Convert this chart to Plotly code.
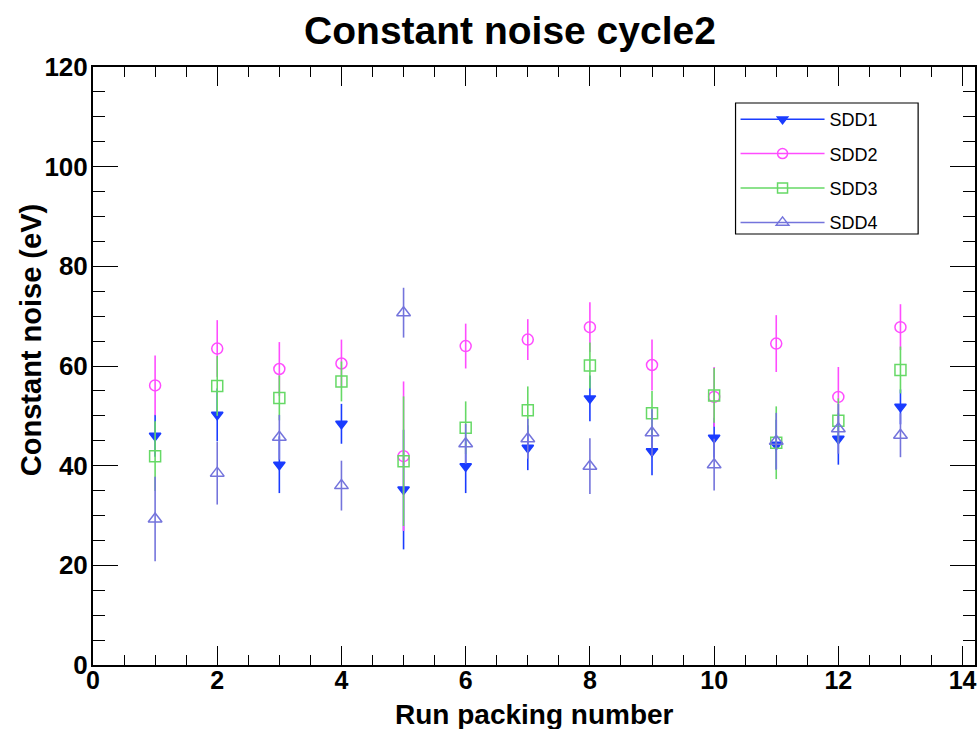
import plotly.graph_objects as go

runs = [1, 2, 3, 4, 5, 6, 7, 8, 9, 10, 11, 12, 13]

sdd1 = [46.0, 50.2, 40.2, 48.4, 35.2, 39.9, 43.6, 53.5, 42.9, 45.6, 44.2, 45.4, 51.8]
sdd1_err = [4.2, 5.3, 5.7, 4.0, 12.0, 5.4, 4.5, 4.6, 4.8, 4.0, 5.0, 5.2, 3.5]

sdd2 = [56.1, 63.5, 59.4, 60.5, 41.9, 64.0, 65.3, 67.8, 60.2, 53.8, 64.5, 53.8, 67.8]
sdd2_err = [6.0, 5.7, 5.4, 4.8, 15.0, 4.5, 4.1, 5.0, 5.1, 6.0, 5.7, 6.0, 4.6]

sdd3 = [41.9, 56.0, 53.6, 56.9, 40.9, 47.6, 51.1, 60.1, 50.5, 54.1, 44.6, 49.0, 59.2]
sdd3_err = [7.0, 6.0, 4.5, 4.0, 13.0, 5.3, 4.8, 4.6, 4.5, 5.5, 7.3, 4.5, 4.7]

sdd4 = [29.3, 38.5, 45.7, 36.0, 70.7, 44.4, 45.4, 39.9, 46.6, 40.2, 44.9, 47.4, 46.1]
sdd4_err = [8.5, 6.3, 4.5, 5.0, 5.0, 4.0, 4.0, 5.6, 4.7, 5.2, 5.7, 5.0, 4.4]

names = ["SDD1", "SDD2", "SDD3", "SDD4"]
values = [sdd1, sdd2, sdd3, sdd4]
errors = [sdd1_err, sdd2_err, sdd3_err, sdd4_err]
colors = ["#1a3cff", "#ff4cff", "#66d966", "#7474dc"]
symbols = ["triangle-down", "circle-open", "square-open", "triangle-up-open"]
msizes = [10, 11, 11, 12]

FONT = "Liberation Sans, Arial, Helvetica, sans-serif"

# plot area in pixels
L, R, T, B = 93, 977, 67, 665
W, H = 980, 729
PW, PH = R - L, B - T

fig = go.Figure()

for name, y, e, c, s, ms in zip(names, values, errors, colors, symbols, msizes):
    fig.add_trace(go.Scatter(
        x=runs, y=y, mode="markers", name=name, showlegend=False,
        marker=dict(symbol=s, color=c, size=ms, line=dict(color=c, width=1.5)),
        error_y=dict(type="data", array=e, visible=True, color=c, thickness=1.6, width=0),
    ))

# legend entries (line + marker, like ROOT "lp")
for name, c, s, ms in zip(names, colors, symbols, msizes):
    fig.add_trace(go.Scatter(
        x=[None], y=[None], mode="lines+markers", name=name,
        legendgroup=name,
        line=dict(color=c, width=1.5),
        marker=dict(symbol=s, color=c, size=ms - 1, line=dict(color=c, width=1.5)),
    ))

axis_common = dict(
    showline=True, linecolor="black", linewidth=2, mirror="allticks",
    ticks="inside", tickcolor="black", tickwidth=1.2,
    showgrid=False, zeroline=False,
)

fig.update_xaxes(
    range=[0, 14.2], dtick=2, tick0=0, ticklen=19,
    minor=dict(dtick=0.5, ticks="inside", ticklen=10, tickcolor="black", tickwidth=1.2),
    ticklabelstandoff=-8,
    tickfont=dict(family=FONT, size=25, color="black", weight="bold"),
    **axis_common,
)
fig.update_yaxes(
    range=[0, 120], dtick=20, tick0=0, ticklen=25,
    minor=dict(dtick=5, ticks="inside", ticklen=12, tickcolor="black", tickwidth=1.2),
    ticklabelstandoff=-2,
    tickfont=dict(family=FONT, size=26, color="black", weight="bold"),
    **axis_common,
)

# legend box (737..920 x 103..234 px)
lx0, lx1, ly0, ly1 = 737, 920, 103, 234

fig.update_layout(
    width=W, height=H,
    margin=dict(l=L, r=W - R, t=T, b=H - B),
    paper_bgcolor="white", plot_bgcolor="white",
    title=dict(text="<b>Constant noise cycle2</b>", x=510 / W, xanchor="center",
               y=1 - 30 / H, yanchor="middle", yref="container",
               font=dict(family=FONT, size=39, color="black")),
    legend=dict(x=(lx0 - L) / PW, y=(B - ly0 + 2) / PH, xanchor="left", yanchor="top",
                borderwidth=0, bgcolor="rgba(0,0,0,0)",
                font=dict(family=FONT, size=18, color="black"),
                tracegroupgap=8, traceorder="grouped", itemwidth=84),
    showlegend=True,
    shapes=[dict(type="rect", xref="paper", yref="paper",
                 x0=(lx0 - L) / PW, x1=(lx1 - L) / PW,
                 y0=(B - ly1) / PH, y1=(B - ly0) / PH,
                 line=dict(color="black", width=1.2), fillcolor="rgba(0,0,0,0)")],
    annotations=[
        dict(text="<b>Run packing number</b>", x=0.5, xref="paper",
             y=(B - 714) / PH, yref="paper", yanchor="middle", xanchor="center",
             showarrow=False, font=dict(family=FONT, size=28, color="black")),
        dict(text="<b>Constant noise (eV)</b>", x=(31 - L) / PW, xref="paper",
             y=(B - 340) / PH, yref="paper", textangle=-90, showarrow=False,
             xanchor="center", yanchor="middle",
             font=dict(family=FONT, size=29, color="black")),
    ],
)

fig.write_html("out.html")
